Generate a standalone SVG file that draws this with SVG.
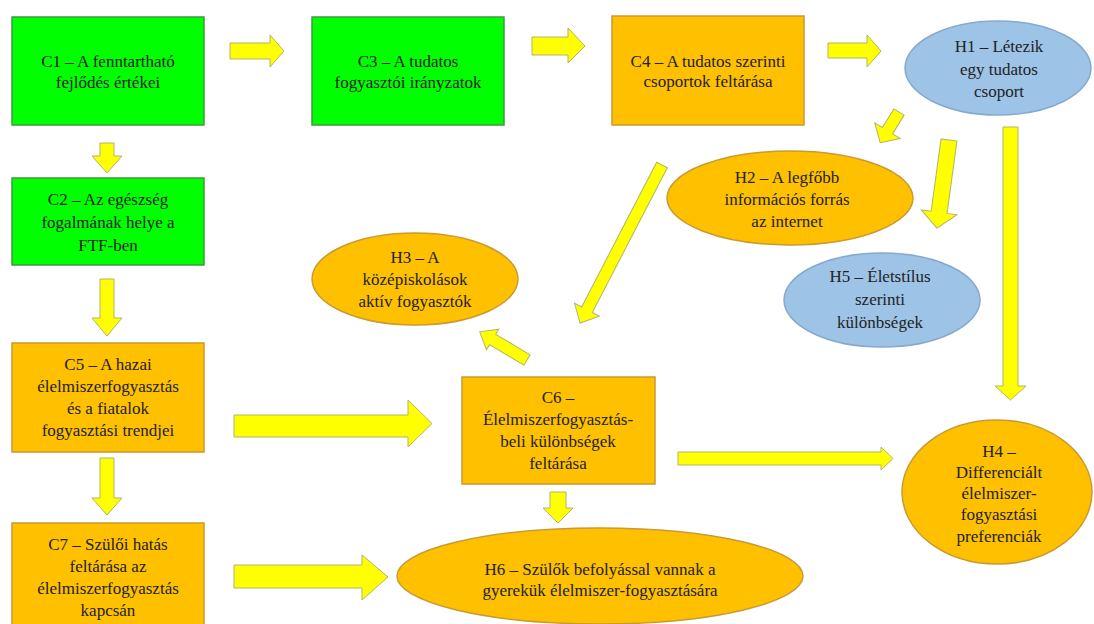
<svg xmlns="http://www.w3.org/2000/svg" width="1094" height="624" viewBox="0 0 1094 624">
<style>
.g{fill:#00ff00;stroke:#3c9a3c;stroke-width:1.5}
.o{fill:#ffc000;stroke:#c99a2e;stroke-width:1.5}
.b{fill:#9dc3e6;stroke:#86a9cc;stroke-width:1.5}
.a{fill:#ffff00;stroke:#b3b36a;stroke-width:1}
text{font-family:"Liberation Serif","Times New Roman",serif;font-size:17px;fill:#222;text-anchor:middle}
</style>
<rect width="1094" height="624" fill="#ffffff"/>
<g id="connectors">
<polygon class="a" points="230,43 270,43 270,35 284,51 270,67 270,59 230,59"/>
<polygon class="a" points="532,37 568,37 568,28 585,46 568,63 568,55 532,55"/>
<polygon class="a" points="828,43 867,43 867,35 881,51 867,67 867,58 828,58"/>
<polygon class="a" points="100,143 114,143 114,156 122,156 107,173 92,156 100,156"/>
<polygon class="a" points="100,279 114,279 114,318 122,318 107,336 92,318 100,318"/>
<polygon class="a" points="100,458 114,458 114,498 122,498 107,515 92,498 100,498"/>
<polygon class="a" points="234,415 408,415 408,400 432,423.5 408,447 408,437 234,437"/>
<polygon class="a" points="234,565 362,565 362,555 388,577 362,600 362,588 234,588"/>
<polygon class="a" points="550,492 566,492 566,508 573,508 558,523 543,508 550,508"/>
<polygon class="a" points="678,452 881,452 881,447 893,458.5 881,470 881,465 678,465"/>
<polygon class="a" points="1003,127 1018,127 1018,386 1026,386 1010.5,400 995,386 1003,386"/>
<polygon class="a" transform="translate(527,360) rotate(210.8)" points="0,-6 40,-6 40,-12 55,0 40,12 40,6 0,6"/>
<polygon class="a" transform="translate(662,165) rotate(117.4)" points="0,-6 163,-6 163,-14 178,0 163,14 163,6 0,6"/>
<polygon class="a" transform="translate(899,112) rotate(121.5)" points="0,-6 22,-6 22,-15 36,0 22,15 22,6 0,6"/>
<polygon class="a" transform="translate(949,140) rotate(97.8)" points="0,-8 73,-8 73,-18 89,0 73,18 73,8 0,8"/>
</g>
<g id="C1"><rect class="g" x="12" y="17" width="192" height="108"/><text x="108" y="67">C1 – A fenntartható</text><text x="108" y="88">fejlődés értékei</text></g>
<g id="C3"><rect class="g" x="312" y="17" width="192" height="108"/><text x="408" y="67">C3 – A tudatos</text><text x="408" y="88">fogyasztói irányzatok</text></g>
<g id="C4"><rect class="o" x="612" y="16" width="192" height="109"/><text x="708" y="67">C4 – A tudatos szerinti</text><text x="708" y="87">csoportok feltárása</text></g>
<g id="H1"><ellipse class="b" cx="998" cy="68" rx="93" ry="47"/><text x="999" y="52">H1 – Létezik</text><text x="999" y="75">egy tudatos</text><text x="999" y="97">csoport</text></g>
<g id="C2"><rect class="g" x="12" y="178" width="192" height="87"/><text x="108" y="205">C2 – Az egészség</text><text x="108" y="228">fogalmának helye a</text><text x="108" y="251">FTF-ben</text></g>
<g id="H2"><ellipse class="o" cx="790" cy="198" rx="123" ry="47"/><text x="787" y="183">H2 – A legfőbb</text><text x="787" y="205">információs forrás</text><text x="787" y="227">az internet</text></g>
<g id="H3"><ellipse class="o" cx="415" cy="279" rx="103" ry="46"/><text x="415" y="263">H3 – A</text><text x="415" y="285">középiskolások</text><text x="415" y="307">aktív fogyasztók</text></g>
<g id="H5"><ellipse class="b" cx="882" cy="300" rx="98" ry="47"/><text x="880" y="282">H5 – Életstílus</text><text x="880" y="305">szerinti</text><text x="880" y="328">különbségek</text></g>
<g id="C5"><rect class="o" x="12" y="343" width="192" height="109"/><text x="108" y="370">C5 – A hazai</text><text x="108" y="392">élelmiszerfogyasztás</text><text x="108" y="414">és a fiatalok</text><text x="108" y="436">fogyasztási trendjei</text></g>
<g id="C6"><rect class="o" x="462" y="377" width="193" height="107"/><text x="558" y="403">C6 –</text><text x="558" y="425">Élelmiszerfogyasztás-</text><text x="558" y="447">beli különbségek</text><text x="558" y="469">feltárása</text></g>
<g id="H4"><ellipse class="o" cx="997" cy="492" rx="95" ry="72"/><text x="999" y="457">H4 –</text><text x="999" y="478">Differenciált</text><text x="999" y="499">élelmiszer-</text><text x="999" y="520">fogyasztási</text><text x="999" y="542">preferenciák</text></g>
<g id="C7"><rect class="o" x="12" y="523" width="192" height="110"/><text x="108" y="550">C7 – Szülői hatás</text><text x="108" y="572">feltárása az</text><text x="108" y="594">élelmiszerfogyasztás</text><text x="108" y="616">kapcsán</text></g>
<g id="H6"><ellipse class="o" cx="600" cy="576" rx="203" ry="48"/><text x="600" y="575">H6 – Szülők befolyással vannak a</text><text x="600" y="596">gyerekük élelmiszer-fogyasztására</text></g>
</svg>
